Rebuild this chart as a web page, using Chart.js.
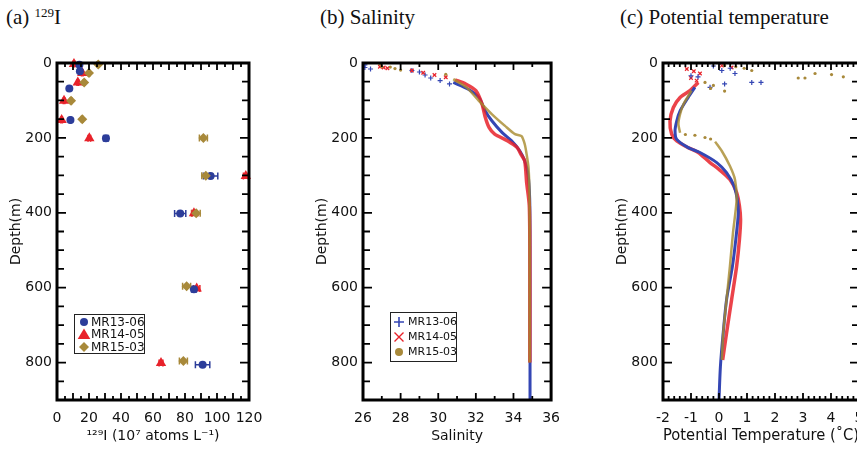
<!DOCTYPE html>
<html>
<head>
<meta charset="utf-8">
<script src="https://cdn.jsdelivr.net/npm/chart.js@4/dist/chart.umd.min.js"></script>
<style>
    html, body { margin: 0; padding: 0; background: #fff; }
    #wrap { position: relative; width: 857px; height: 450px; overflow: hidden; }
    .panel { position: absolute; top: 0; height: 450px; }
    .ttl { position: absolute; top: 5px; font-family: "Liberation Serif", serif; font-size: 21px; line-height: 24px; color: #111; white-space: nowrap; }
    .ttl sup { font-size: 13px; vertical-align: 7px; line-height: 0; }
</style>
</head>
<body>
<div id="wrap">
    <div class="ttl" style="left:6px">(a) <sup>129</sup>I</div>
    <div class="ttl" style="left:320px">(b) Salinity</div>
    <div class="ttl" style="left:620px">(c) Potential temperature</div>
    <div class="panel" style="left:0px;width:285px"><canvas id="chart-a"></canvas></div>
    <div class="panel" style="left:305px;width:265px"><canvas id="chart-b"></canvas></div>
    <div class="panel" style="left:605px;width:300px"><canvas id="chart-c"></canvas></div>
</div>
<script>
const seriesNames = ["MR13-06", "MR14-05", "MR15-03"];
const depthTicks = [0, 200, 400, 600, 800];

// (a) 129I, 10^7 atoms/L
const depth13 = [5, 22, 68, 152, 201, 302, 402, 604, 806];
const iodine13 = [14, 14.3, 7.7, 8.4, 30.6, 96, 77, 85.6, 91];
const iodineErr13 = [0.5, 0.5, 0.5, 0.5, 1.5, 4.5, 3.5, 1.5, 4.5];

const depth14 = [3, 27, 52, 101, 152, 201, 302, 401, 602, 801];
const iodine14 = [10.6, 15.8, 13, 4.4, 2.9, 20.2, 118, 85.6, 87.3, 65];
const iodineErr14 = [0.5, 0.5, 0.5, 0.5, 0.5, 0.8, 1.5, 1.5, 2, 1.2];

const depth15 = [4, 27, 52, 101, 150, 200, 301, 401, 596, 796];
const iodine15 = [25.8, 20, 17, 8.8, 15.8, 91.5, 93, 87, 81, 79];
const iodineErr15 = [0.6, 0.6, 0.6, 0.6, 0.6, 2.5, 2.5, 2.5, 2.5, 2.5];

// (b) salinity profiles
const salSurf13 = [26.1, 26.1, 26.4, 28.6, 29.0, 29.3, 29.6, 30.1, 30.6];
const salSurfDepth13 = [5, 12, 16, 20, 24, 32, 40, 47, 56];
const sal13 = [30.8, 31.6, 32.16, 32.5, 32.86, 33.4, 33.9, 34.34, 34.6, 34.78, 34.86, 34.88, 34.88, 34.88];
const salDepth13 = [52, 70, 92, 128, 155, 186, 208, 235, 262, 300, 360, 450, 700, 900];

const salSurf14 = [26.9, 27.1, 27.3, 28.6, 29.2, 29.8, 30.4];
const salSurfDepth14 = [10, 12, 14, 20, 26, 32, 38];
const sal14 = [30.9, 31.46, 32.0, 32.33, 32.5, 32.7, 33.0, 33.7, 34.2, 34.4, 34.6, 34.7, 34.84, 34.87, 34.87];
const salDepth14 = [45, 56, 74, 110, 145, 172, 190, 208, 226, 244, 262, 319, 380, 500, 800];

const salSurf15 = [26.9, 27.0, 27.45, 27.7, 28.0, 30.4];
const salSurfDepth15 = [3, 10, 11, 15, 19, 30];
const sal15 = [30.8, 31.5, 32.16, 32.86, 33.55, 34.08, 34.43, 34.6, 34.7, 34.8, 34.85, 34.86, 34.86];
const salDepth15 = [43, 65, 101, 137, 168, 190, 195, 217, 244, 280, 350, 500, 800];

// (c) potential temperature profiles
const tmpSurf13 = [-0.2, 0.1, 0.4, 0.57, -1.0, -0.75, -0.32, 0.2, 1.17, 1.5];
const tmpSurfDepth13 = [8, 20, 14, 28, 34, 37, 65, 56, 52, 52];
const tmp13 = [-0.86, -1.1, -1.39, -1.51, -1.57, -1.51, -1.1, -0.68, -0.08, 0.27, 0.54, 0.65, 0.69, 0.6, 0.48, 0.27, 0.15, 0.05, 0.0];
const tmpDepth13 = [65, 92, 128, 155, 181, 204, 226, 239, 266, 293, 329, 364, 400, 471, 543, 632, 721, 811, 900];

const tmpSurf14 = [0.1, 0.45, -1.15, -0.9, -0.68, -1.0, -0.8];
const tmpSurfDepth14 = [7, 12, 16, 22, 28, 40, 47];
const tmp14 = [-0.74, -1.04, -1.39, -1.63, -1.75, -1.69, -1.51, -1.1, -0.74, -0.32, 0.0, 0.39, 0.63, 0.73, 0.77, 0.73, 0.63, 0.45, 0.27, 0.13];
const tmpDepth14 = [52, 74, 92, 119, 155, 190, 208, 226, 239, 266, 284, 311, 346, 382, 418, 471, 543, 632, 721, 793];

const tmpSurf15 = [0.2, 0.6, 0.9, 1.17, 2.83, 3.07, 3.43, 4.02, 4.44, -0.5, -0.2, 0.2, -0.3, -1.2, -0.86, -0.5, -0.3];
const tmpSurfDepth15 = [7, 10, 14, 20, 40, 40, 28, 31, 37, 52, 60, 75, 68, 191, 193, 199, 203];
const tmp15Upper = [-0.98, -1.27, -1.39, -1.45, -1.39];
const tmpDepth15Upper = [74, 110, 137, 163, 186];
const tmp15Lower = [-0.14, 0.1, 0.39, 0.57, 0.63, 0.5, 0.39, 0.27, 0.15, 0.1];
const tmpDepth15Lower = [210, 235, 275, 311, 364, 453, 543, 632, 721, 793];

const colors = {
    blue: "#2c3d9a",
    blueLine: "#3446b4",
    red: "#e8222a",
    redLine: "rgba(232, 34, 42, 0.85)",
    gold: "#a8893a",
    goldLine: "rgba(168, 138, 44, 0.8)",
    black: "#111",
};

const sansFont = "'DejaVu Sans', sans-serif";

function pts(xs, ys) {
    return xs.map((v, i) => ({ x: v, y: ys[i] }));
}

function drawMarker(ctx, style, x, y, r, color) {
    ctx.save();
    ctx.fillStyle = color;
    ctx.strokeStyle = color;
    ctx.beginPath();
    if (style === "circle") {
	ctx.arc(x, y, r, 0, Math.PI * 2);
	ctx.fill();
    } else if (style === "triangle") {
	ctx.moveTo(x, y - r);
	ctx.lineTo(x + r * 1.05, y + r * 0.75);
	ctx.lineTo(x - r * 1.05, y + r * 0.75);
	ctx.closePath();
	ctx.fill();
    } else if (style === "rectRot") {
	ctx.moveTo(x, y - r);
	ctx.lineTo(x + r, y);
	ctx.lineTo(x, y + r);
	ctx.lineTo(x - r, y);
	ctx.closePath();
	ctx.fill();
    } else if (style === "cross") {
	ctx.lineWidth = 1.6;
	ctx.moveTo(x - r, y); ctx.lineTo(x + r, y);
	ctx.moveTo(x, y - r); ctx.lineTo(x, y + r);
	ctx.stroke();
    } else if (style === "crossRot") {
	ctx.lineWidth = 1.4;
	const d = r * 0.75;
	ctx.moveTo(x - d, y - d); ctx.lineTo(x + d, y + d);
	ctx.moveTo(x + d, y - d); ctx.lineTo(x - d, y + d);
	ctx.stroke();
    }
    ctx.restore();
}

// thick frame with inward ticks on all four sides
const frameTicks = {
    id: "frameTicks",
    afterDatasetsDraw(chart, args, opts) {
	const { ctx, chartArea: a, scales: { x, y } } = chart;
	ctx.save();
	ctx.strokeStyle = "#000";
	ctx.lineWidth = 1.8;
	ctx.beginPath();
	const isMajor = (v, step) => Math.abs(v / step - Math.round(v / step)) < 1e-6;
	const nx = Math.round((x.max - x.min) / opts.xMinor);
	for (let i = 1; i < nx; i++) {
	    const v = x.min + i * opts.xMinor;
	    const px = x.getPixelForValue(v);
	    const len = isMajor(v, opts.xMajor) ? 7 : 4;
	    ctx.moveTo(px, a.bottom); ctx.lineTo(px, a.bottom - len);
	    ctx.moveTo(px, a.top); ctx.lineTo(px, a.top + len);
	}
	const ny = Math.round((y.max - y.min) / opts.yMinor);
	for (let i = 1; i < ny; i++) {
	    const v = y.min + i * opts.yMinor;
	    const py = y.getPixelForValue(v);
	    const len = isMajor(v, opts.yMajor) ? 9 : 7;
	    ctx.moveTo(a.left, py); ctx.lineTo(a.left + len, py);
	    ctx.moveTo(a.right, py); ctx.lineTo(a.right - len, py);
	}
	ctx.stroke();
	ctx.lineWidth = 3;
	ctx.strokeRect(a.left, a.top, a.right - a.left, a.bottom - a.top);
	ctx.restore();
    }
};

// horizontal error bars for panel (a)
const errorBars = {
    id: "errorBars",
    beforeDatasetsDraw(chart) {
	const { ctx, scales: { x, y } } = chart;
	chart.data.datasets.forEach(ds => {
	    if (!ds.xErr) return;
	    ctx.save();
	    ctx.strokeStyle = ds.backgroundColor;
	    ctx.lineWidth = 1.5;
	    ds.data.forEach((p, i) => {
		const e = ds.xErr[i];
		const x0 = x.getPixelForValue(p.x - e);
		const x1 = x.getPixelForValue(p.x + e);
		const py = y.getPixelForValue(p.y);
		ctx.beginPath();
		ctx.moveTo(x0, py); ctx.lineTo(x1, py);
		ctx.moveTo(x0, py - 3.5); ctx.lineTo(x0, py + 3.5);
		ctx.moveTo(x1, py - 3.5); ctx.lineTo(x1, py + 3.5);
		ctx.stroke();
	    });
	    ctx.restore();
	});
    }
};

// boxed legend inside the plot area
const boxLegend = {
    id: "boxLegend",
    afterDraw(chart, args, opts) {
	if (!opts.show) return;
	const { ctx, chartArea: a } = chart;
	const left = a.left + opts.dx, top = a.top + opts.dy;
	ctx.save();
	ctx.strokeStyle = "#222";
	ctx.lineWidth = 1;
	ctx.strokeRect(left + 0.5, top + 0.5, opts.w, opts.h);
	ctx.font = opts.font;
	ctx.fillStyle = colors.black;
	ctx.textBaseline = "middle";
	const items = chart.data.datasets.filter(ds => ds.legendStyle);
	items.forEach((ds, i) => {
	    const cy = top + opts.firstRow + i * opts.rowH;
	    const s = ds.legendStyle;
	    drawMarker(ctx, s.style, left + opts.markerX, cy, s.r, s.color);
	    ctx.fillText(ds.label, left + opts.textX, cy + 0.5);
	});
	ctx.restore();
    }
};

function depthAxis(width) {
    return {
	type: "linear",
	reverse: true,
	min: 0,
	max: 900,
	afterFit(s) { s.width = width; },
	afterBuildTicks(s) { s.ticks = depthTicks.map(v => ({ value: v })); },
	grid: { display: false, drawTicks: false },
	border: { display: false },
	ticks: { color: colors.black, font: { family: sansFont, size: 14 }, padding: 5 },
	title: { display: true, text: "Depth(m)", color: colors.black, font: { family: sansFont, size: 14 }, padding: { top: 3, bottom: 0 } },
    };
}

function bottomAxis(min, max, step, label, titleSize) {
    return {
	type: "linear",
	min: min,
	max: max,
	afterFit(s) { s.height = 45; },
	grid: { display: false, drawTicks: false },
	border: { display: false },
	ticks: { stepSize: step, color: colors.black, font: { family: sansFont, size: 14 }, padding: 10, maxRotation: 0, autoSkip: false },
	title: { display: true, text: label, color: colors.black, font: { family: sansFont, size: titleSize }, padding: { top: 2, bottom: 0 } },
    };
}

function baseOptions(xAxis, padding, ticks, legend) {
    return {
	responsive: true,
	maintainAspectRatio: false,
	animation: false,
	layout: { padding: padding },
	plugins: {
	    legend: { display: false },
	    tooltip: { enabled: false },
	    frameTicks: ticks,
	    boxLegend: legend,
	},
	scales: { x: xAxis, y: depthAxis(52) },
    };
}

function markerSet(label, xs, ys, err, style, radius, color, order) {
    return {
	label: label,
	data: pts(xs, ys),
	xErr: err,
	pointStyle: style,
	pointRadius: radius,
	backgroundColor: color,
	borderColor: color,
	borderWidth: 0,
	clip: false,
	order: order,
	legendStyle: { style: style, r: radius, color: color },
    };
}

function profileLine(label, xs, ys, color, width, order, legendStyle) {
    return {
	label: label,
	data: pts(xs, ys),
	showLine: true,
	borderColor: color,
	backgroundColor: color,
	borderWidth: width,
	pointRadius: 0,
	tension: 0.25,
	order: order,
	legendStyle: legendStyle,
    };
}

function surfaceDots(xs, ys, style, color, radius, order) {
    return {
	label: "_surface",
	data: pts(xs, ys),
	pointStyle: style,
	pointRadius: radius,
	backgroundColor: color,
	borderColor: color,
	borderWidth: style === "circle" ? 0 : 1.2,
	order: order,
    };
}

new Chart(document.getElementById("chart-a"), {
    type: "scatter",
    data: {
	datasets: [
	    markerSet(seriesNames[0], iodine13, depth13, iodineErr13, "circle", 4, colors.blue, 1),
	    markerSet(seriesNames[1], iodine14, depth14, iodineErr14, "triangle", 6, colors.red, 2),
	    markerSet(seriesNames[2], iodine15, depth15, iodineErr15, "rectRot", 5, colors.gold, 0),
	],
    },
    options: baseOptions(
	bottomAxis(0, 120, 20, "¹²⁹I (10⁷ atoms L⁻¹)", 14),
	{ left: 5, right: 36, top: 63, bottom: 5 },
	{ xMinor: 5, xMajor: 10, yMinor: 50, yMajor: 200 },
	{ show: true, dx: 17, dy: 251, w: 70, h: 39, firstRow: 8, rowH: 12.5, markerX: 10, textX: 17, font: "12px " + sansFont }
    ),
    plugins: [frameTicks, errorBars, boxLegend],
});

new Chart(document.getElementById("chart-b"), {
    type: "scatter",
    data: {
	datasets: [
	    profileLine(seriesNames[0], sal13, salDepth13, colors.blueLine, 3, 3, { style: "cross", r: 5, color: colors.blueLine }),
	    profileLine(seriesNames[1], sal14, salDepth14, colors.redLine, 3.5, 2, { style: "crossRot", r: 6, color: colors.red }),
	    profileLine(seriesNames[2], sal15, salDepth15, colors.goldLine, 2.5, 1, { style: "circle", r: 4, color: colors.gold }),
	    surfaceDots(salSurf13, salSurfDepth13, "cross", colors.blueLine, 2.5, 3),
	    surfaceDots(salSurf14, salSurfDepth14, "crossRot", colors.red, 2.5, 2),
	    surfaceDots(salSurf15, salSurfDepth15, "circle", colors.gold, 1.6, 1),
	],
    },
    options: baseOptions(
	bottomAxis(26, 36, 2, "Salinity", 14),
	{ left: 6, right: 14, top: 63, bottom: 5 },
	{ xMinor: 1, xMajor: 2, yMinor: 50, yMajor: 200 },
	{ show: true, dx: 27, dy: 249, w: 66, h: 49, firstRow: 10, rowH: 15, markerX: 9, textX: 18, font: "11px " + sansFont }
    ),
    plugins: [frameTicks, boxLegend],
});

new Chart(document.getElementById("chart-c"), {
    type: "scatter",
    data: {
	datasets: [
	    profileLine(seriesNames[0], tmp13, tmpDepth13, colors.blueLine, 3, 2),
	    profileLine(seriesNames[1], tmp14, tmpDepth14, colors.redLine, 3.5, 3),
	    profileLine(seriesNames[2], tmp15Upper, tmpDepth15Upper, colors.goldLine, 2.5, 1),
	    profileLine("_lower", tmp15Lower, tmpDepth15Lower, colors.goldLine, 2.5, 1),
	    surfaceDots(tmpSurf13, tmpSurfDepth13, "cross", colors.blueLine, 2.5, 2),
	    surfaceDots(tmpSurf14, tmpSurfDepth14, "crossRot", colors.red, 2.5, 3),
	    surfaceDots(tmpSurf15, tmpSurfDepth15, "circle", colors.gold, 1.6, 1),
	],
    },
    options: baseOptions(
	bottomAxis(-2, 5, 1, "Potential Temperature (˚C)", 15),
	{ left: 6, right: 46, top: 63, bottom: 5 },
	{ xMinor: 0.2, xMajor: 1, yMinor: 50, yMajor: 200 },
	{ show: false }
    ),
    plugins: [frameTicks, boxLegend],
});
</script>
</body>
</html>
